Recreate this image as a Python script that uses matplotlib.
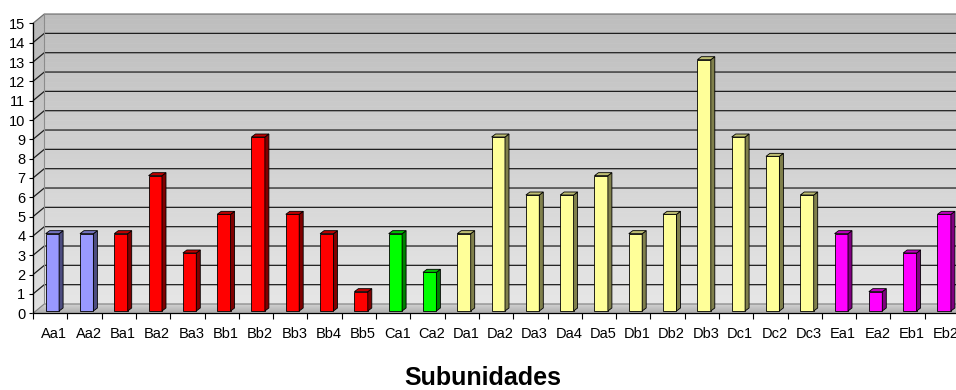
import numpy as np
import matplotlib
matplotlib.use("Agg")
import matplotlib.pyplot as plt
from matplotlib.patches import Polygon
from matplotlib.colors import to_rgb

plt.rcParams['font.family'] = ['Liberation Sans', 'DejaVu Sans']

# subunits and counts
labels = ['Aa1', 'Aa2', 'Ba1', 'Ba2', 'Ba3', 'Bb1', 'Bb2', 'Bb3', 'Bb4', 'Bb5',
          'Ca1', 'Ca2', 'Da1', 'Da2', 'Da3', 'Da4', 'Da5', 'Db1', 'Db2', 'Db3',
          'Dc1', 'Dc2', 'Dc3', 'Ea1', 'Ea2', 'Eb1', 'Eb2']
values = [4, 4, 4, 7, 3, 5, 9, 5, 4, 1,
          4, 2, 4, 9, 6, 6, 7, 4, 5, 13,
          9, 8, 6, 4, 1, 3, 5]
groups = ['A'] * 2 + ['B'] * 8 + ['C'] * 2 + ['D'] * 11 + ['E'] * 4
yticks = list(range(0, 16))

# front, side, top colours per group
palette = {
    'A': ('#9999FF', '#4D4D80', '#7373BF'),
    'B': ('#FF0000', '#800000', '#BF0000'),
    'C': ('#00FF00', '#008000', '#00BF00'),
    'D': ('#FFFF99', '#80804C', '#BFBF73'),
    'E': ('#FF00FF', '#800080', '#BF00BF'),
}

n = len(labels)
ymax = 15

fig = plt.figure(figsize=(9.56, 3.90), dpi=100)
W, H = 956, 390
sx, sy = 34.3, 19.33           # px per category / per unit
ax = fig.add_axes([33 / W, (H - 313.3) / H, n * sx / W, ymax * sy / H])
ax.set_xlim(0, n)
ax.set_ylim(0, ymax)
ax.set_facecolor('none')

# depth of the walls and of the bars (data units)
wdx, wdy = 11.3 / sx, 9.3 / sy
fy = 0.12
bw = 13.4 / sx
bx0 = 0.37
sdx, sdy = 4.0 / sx, 3.0 / sy


def shade_quad(p0, p1, p2, p3, c_lo, c_hi, steps=60, z=0):
    # fill quad p0-p1 (low edge) .. p3-p2 (high edge) with a linear gradient
    p0, p1, p2, p3 = map(np.array, (p0, p1, p2, p3))
    lo, hi = np.array(to_rgb(c_lo)), np.array(to_rgb(c_hi))
    ts = np.linspace(0, 1, steps + 1)
    for a, b in zip(ts[:-1], ts[1:]):
        c = lo + (hi - lo) * (a + b) / 2
        pts = [p0 + (p3 - p0) * a, p1 + (p2 - p1) * a,
               p1 + (p2 - p1) * b, p0 + (p3 - p0) * b]
        ax.add_patch(Polygon(pts, closed=True, facecolor=c, edgecolor=c,
                             lw=0.4, zorder=z, clip_on=False))


# back wall, side wall, floor
shade_quad((wdx, wdy), (n + wdx, wdy), (n + wdx, ymax + wdy), (wdx, ymax + wdy),
           '#e6e6e6', '#bdbdbd')
shade_quad((0, 0), (wdx, wdy), (wdx, ymax + wdy), (0, ymax),
           '#e0e0e0', '#b8b8b8')
shade_quad((0, 0), (n, 0), (n + wdx, wdy), (wdx, wdy),
           '#a6a6a6', '#d2d2d2', steps=10, z=1.5)

# gridlines on both walls
for k in yticks[1:]:
    col = '#707070' if k == ymax else '#1e1e1e'
    ax.plot([0, wdx, n + wdx], [k, k + wdy, k + wdy], color=col, lw=0.9,
            zorder=1, clip_on=False, solid_capstyle='butt')
ax.plot([0, wdx, n + wdx], [0, wdy, wdy], color='#808080', lw=0.8,
        zorder=1.6, clip_on=False)
ax.plot([wdx, wdx], [wdy, ymax + wdy], color='#8c8c8c', lw=0.8,
        zorder=1.2, clip_on=False)

# bars with side and top faces
xs = np.arange(n) + bx0
fronts = [palette[g][0] for g in groups]
ax.bar(xs, values, width=bw, bottom=fy, align='edge', color=fronts,
       edgecolor='black', linewidth=0.6, zorder=3, clip_on=False)
for x, v, g in zip(xs, values, groups):
    _, side, top = palette[g]
    r = x + bw
    ax.add_patch(Polygon([(r, fy), (r + sdx, fy + sdy), (r + sdx, v + fy + sdy),
                          (r, v + fy)], closed=True, facecolor=side,
                         edgecolor='black', lw=0.6, zorder=3, clip_on=False))
    ax.add_patch(Polygon([(x, v + fy), (x + sdx, v + fy + sdy),
                          (r + sdx, v + fy + sdy), (r, v + fy)], closed=True,
                         facecolor=top, edgecolor='black', lw=0.6, zorder=3,
                         clip_on=False))

# axes
for s in ('top', 'right'):
    ax.spines[s].set_visible(False)
for s in ('left', 'bottom'):
    ax.spines[s].set_color('black')
    ax.spines[s].set_linewidth(0.9)
    ax.spines[s].set_zorder(4)

ax.set_yticks(yticks)
ax.tick_params(axis='y', direction='out', length=3, width=0.8, pad=2.5,
               labelsize=10.5, colors='black')
ax.set_xticks(np.arange(n + 1))
ax.set_xticklabels([])
ax.set_xticks(np.arange(n) + 0.62, minor=True)
ax.set_xticklabels(labels, minor=True)
ax.tick_params(axis='x', which='major', direction='out', length=4, width=0.8)
ax.tick_params(axis='x', which='minor', length=0, pad=10, labelsize=10.5)

fig.text(483 / W, 1 - 378 / H, 'Subunidades', ha='center', va='center',
         fontsize=18, fontweight='bold')

fig.savefig('out.png', dpi=100)
